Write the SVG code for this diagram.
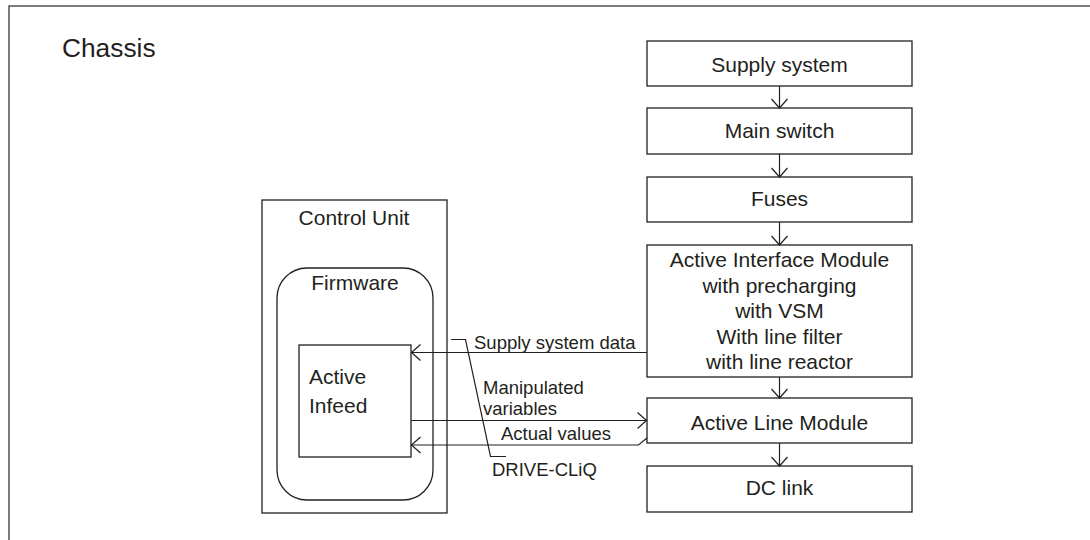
<svg xmlns="http://www.w3.org/2000/svg" width="1090" height="540" viewBox="0 0 1090 540">
<style>
.box{fill:#fff;stroke:#231f20;stroke-width:1.3}
.ln{fill:none;stroke:#231f20;stroke-width:1.2}
text{font-family:"Liberation Sans",Arial,sans-serif;font-size:21px;fill:#231f20}
.c{text-anchor:middle}
.lbl{font-size:18.5px}
</style>
<defs>
<marker id="ah" markerUnits="userSpaceOnUse" markerWidth="20" markerHeight="20" refX="0" refY="0" orient="auto" overflow="visible">
<path d="M-9,-8 L0,0 L-9,8" fill="none" stroke="#231f20" stroke-width="1.2"/>
</marker>
</defs>
<rect width="1090" height="540" fill="#fff"/>
<g id="chassis">
<rect x="9" y="6" width="1200" height="700" fill="none" stroke="#3a3538" stroke-width="1.3"/>
<text x="62" y="57" style="font-size:26.3px">Chassis</text>
</g>
<g id="control-unit">
<rect class="box" x="262" y="200" width="185" height="313"/>
<text class="c" x="354" y="225">Control Unit</text>
</g>
<g id="firmware">
<rect class="box" x="277" y="268" width="156" height="232" rx="30" ry="30"/>
<text class="c" x="355" y="290">Firmware</text>
</g>
<g id="active-infeed">
<rect class="box" x="299" y="345" width="112" height="112"/>
<text x="309" y="384">Active</text>
<text x="309" y="413">Infeed</text>
</g>
<g id="supply-system">
<rect class="box" x="647" y="41" width="265" height="45"/>
<text class="c" x="779.5" y="72">Supply system</text>
</g>
<g id="main-switch">
<rect class="box" x="647" y="108" width="265" height="46"/>
<text class="c" x="779.5" y="137.5">Main switch</text>
</g>
<g id="fuses">
<rect class="box" x="647" y="177" width="265" height="45"/>
<text class="c" x="779.5" y="206">Fuses</text>
</g>
<g id="aim">
<rect class="box" x="647" y="245" width="265" height="132"/>
<text class="c" x="779.5" y="267">Active Interface Module</text>
<text class="c" x="779.5" y="292.6">with precharging</text>
<text class="c" x="779.5" y="318.2">with VSM</text>
<text class="c" x="779.5" y="343.8">With line filter</text>
<text class="c" x="779.5" y="369.4">with line reactor</text>
</g>
<g id="alm">
<rect class="box" x="647" y="398" width="265" height="45"/>
<text class="c" x="779.5" y="430">Active Line Module</text>
</g>
<g id="dc-link">
<rect class="box" x="647" y="466" width="265" height="46"/>
<text class="c" x="779.5" y="495">DC link</text>
</g>
<g id="connectors">
<line class="ln" x1="779.5" y1="86" x2="779.5" y2="108" marker-end="url(#ah)"/>
<line class="ln" x1="779.5" y1="154" x2="779.5" y2="177" marker-end="url(#ah)"/>
<line class="ln" x1="779.5" y1="222" x2="779.5" y2="245" marker-end="url(#ah)"/>
<line class="ln" x1="779.5" y1="377" x2="779.5" y2="398" marker-end="url(#ah)"/>
<line class="ln" x1="779.5" y1="443" x2="779.5" y2="466" marker-end="url(#ah)"/>
<line class="ln" x1="647" y1="352.5" x2="411.5" y2="352.5" marker-end="url(#ah)"/>
<line class="ln" x1="411" y1="420.5" x2="646.5" y2="420.5" marker-end="url(#ah)"/>
<polyline class="ln" points="647,438 638.5,445 411.5,445" marker-end="url(#ah)"/>
<polyline class="ln" points="451,339.5 465.5,339.5 490.5,456.5 506,456.5"/>
<text class="lbl" x="474" y="348.5">Supply system data</text>
<text class="lbl" x="483" y="394">Manipulated</text>
<text class="lbl" x="483" y="415">variables</text>
<text class="lbl" x="501" y="440">Actual values</text>
<text class="lbl" x="492" y="475.5">DRIVE-CLiQ</text>
</g>
</svg>
